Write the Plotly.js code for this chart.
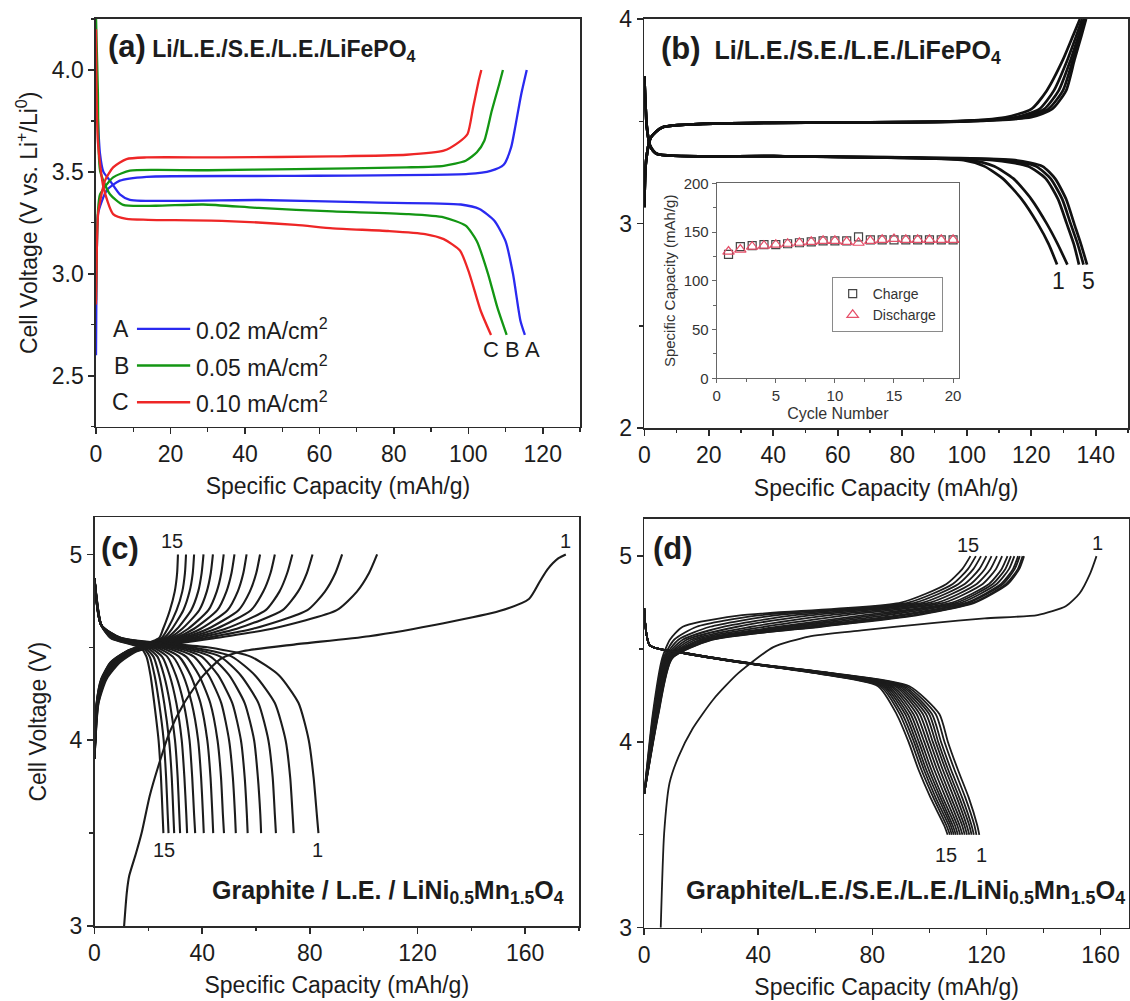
<!DOCTYPE html>
<html>
<head>
<meta charset="utf-8">
<script src="https://cdn.plot.ly/plotly-3.0.1.min.js"></script>
<style>
  html, body { margin: 0; padding: 0; background: #ffffff; }
  #chart { width: 1130px; height: 1001px; }
</style>
</head>
<body>
<div id="chart"></div>
<script>
// ---------- (a) Li/L.E./S.E./L.E./LiFePO4 at three current densities ----------
const rateLabels = ["A", "B", "C"];
const rateNames = ["0.02 mA/cm<sup>2</sup>", "0.05 mA/cm<sup>2</sup>", "0.10 mA/cm<sup>2</sup>"];
const rateColors = ["#2a2af0", "#139613", "#ee2626"];

const aChgX_A = [0, 0.1, 0.25, 0.6, 2.9, 6.4, 13.6, 50, 100, 106, 109.5, 111.5, 112.5, 114.2, 115.7];
const aChgY_A = [2.6, 2.9, 3.15, 3.30, 3.41, 3.457, 3.476, 3.48, 3.49, 3.505, 3.535, 3.62, 3.71, 3.88, 4.0];
const aDisX_A = [0, 0.3, 1.07, 2.0, 3.75, 6.4, 9.1, 44, 73.5, 98, 103, 107, 110, 112, 114, 115.2];
const aDisY_A = [4.05, 3.85, 3.59, 3.50, 3.457, 3.39, 3.363, 3.362, 3.35, 3.34, 3.318, 3.26, 3.16, 3.0, 2.77, 2.70];

const aChgX_B = [0, 0.2, 0.5, 1.1, 4.6, 9.1, 16, 30, 53.6, 83.4, 93.4, 99.3, 102.3, 104.3, 106.3, 108.3, 109.3];
const aChgY_B = [2.87, 3.1, 3.3, 3.39, 3.473, 3.506, 3.51, 3.508, 3.514, 3.522, 3.53, 3.555, 3.596, 3.653, 3.80, 3.93, 4.0];
const aDisX_B = [0, 0.5, 1.1, 3.75, 7.3, 16, 28.8, 43.7, 63.6, 83.4, 93.4, 99.3, 102.3, 105.3, 107.8, 110.3];
const aDisY_B = [4.26, 3.9, 3.506, 3.39, 3.338, 3.334, 3.34, 3.323, 3.306, 3.293, 3.277, 3.236, 3.16, 3.0, 2.835, 2.70];

const aChgX_C = [0, 0.2, 0.6, 2.4, 4.6, 8.2, 13.6, 33.8, 63.6, 83.4, 93.4, 97.4, 99.8, 101.3, 102.8, 103.5];
const aChgY_C = [2.85, 3.1, 3.3, 3.457, 3.522, 3.563, 3.571, 3.571, 3.576, 3.584, 3.604, 3.645, 3.686, 3.817, 3.948, 4.0];
const aDisX_C = [0, 0.5, 2.0, 4.6, 8.2, 14, 33.8, 53.6, 63.6, 78.5, 88.4, 93.4, 97.8, 100.3, 103.3, 106.1];
const aDisY_C = [4.2, 3.65, 3.424, 3.293, 3.269, 3.265, 3.26, 3.24, 3.223, 3.21, 3.195, 3.17, 3.113, 3.0, 2.82, 2.70];

// ---------- (b) first five cycles of the same cell ----------
const bChgV = [3.08, 3.30, 3.42, 3.47, 3.49, 3.50, 3.52, 3.56, 3.65, 3.80, 3.92, 4.00];
const bChgCap = [
  [0, 0.5, 2, 5.5, 25, 95, 112, 120, 124.8, 129.8, 133.0, 135.1],
  [0, 0.5, 2, 5.5, 25, 97, 115, 122.5, 127.0, 131.2, 134.0, 135.8],
  [0, 0.5, 2, 5.5, 25, 98, 117, 124.0, 128.5, 132.2, 134.7, 136.4],
  [0, 0.5, 2, 5.5, 25, 99, 118.5, 125.3, 129.8, 132.9, 135.2, 136.8],
  [0, 0.5, 2, 5.5, 25, 100, 120, 126.5, 130.8, 133.4, 135.6, 137.0]
];
const bDisV = [3.72, 3.47, 3.38, 3.34, 3.33, 3.31, 3.28, 3.22, 3.12, 3.00, 2.90, 2.80];
const bDisCap = [
  [0, 0.8, 1.8, 4, 40, 99, 105.5, 111.2, 117.0, 122.0, 125.4, 128.0],
  [0, 0.8, 1.8, 4, 40, 101, 108.5, 114.5, 120.0, 124.8, 128.2, 131.2],
  [0, 0.8, 1.8, 4, 40, 108, 119.0, 124.5, 128.3, 131.0, 133.2, 134.8],
  [0, 0.8, 1.8, 4, 40, 112, 121.5, 126.0, 129.6, 132.2, 134.4, 136.2],
  [0, 0.8, 1.8, 4, 40, 115, 123.5, 127.4, 130.8, 133.3, 135.4, 137.3]
];

// inset: capacity vs cycle number
const cycleNo = [1, 2, 3, 4, 5, 6, 7, 8, 9, 10, 11, 12, 13, 14, 15, 16, 17, 18, 19, 20];
const chargeCap = [127, 135, 136, 137, 137, 138, 139, 140, 141, 141, 141, 145, 142, 142, 142, 142, 142, 142, 142, 142];
const dischargeCap = [130, 132, 135, 136, 137, 138, 139, 140, 141, 141, 140, 139, 141, 142, 143, 142, 142, 142, 142, 142];

// ---------- (c) Graphite / L.E. / LiNi0.5Mn1.5O4, cycles 1-15 ----------
const cChg1X = [11, 12, 12.9, 15.4, 17.5, 20.5, 23.7, 27.8, 33.3, 40.2, 47.1, 55.4, 74.6, 102, 129.7, 150.4, 161.4, 165.5, 168.3, 172.4, 175.1];
const cChg1Y = [3.0, 3.18, 3.27, 3.39, 3.5, 3.7, 3.86, 4.04, 4.2, 4.345, 4.44, 4.48, 4.516, 4.56, 4.63, 4.695, 4.76, 4.856, 4.92, 4.98, 5.0];
const cChgV = [3.90, 4.20, 4.33, 4.42, 4.48, 4.55, 4.60, 4.70, 4.80, 4.90, 5.00];
const cChgCap = [ // cycles 2 .. 15
  [0, 1.5, 4.5, 9.5, 16.0, 45.0, 66.0, 90.0, 97.5, 102.0, 105.0],
  [0, 1.4, 4.1, 8.9, 15.3, 41.3, 58.9, 79.1, 85.6, 89.5, 92.0],
  [0, 1.3, 3.9, 8.4, 14.7, 38.2, 52.9, 69.9, 75.6, 78.9, 81.0],
  [0, 1.2, 3.7, 8.0, 14.3, 36.1, 48.7, 63.6, 68.7, 71.6, 73.5],
  [0, 1.1, 3.5, 7.7, 13.9, 34.2, 45.2, 58.1, 62.7, 65.4, 67.0],
  [0, 1.1, 3.3, 7.4, 13.6, 32.7, 42.2, 53.5, 57.7, 60.1, 61.5],
  [0, 1.0, 3.2, 7.2, 13.4, 31.2, 39.5, 49.4, 53.2, 55.3, 56.5],
  [0, 1.0, 3.1, 7.0, 13.1, 30.0, 37.0, 45.6, 49.0, 50.9, 52.0],
  [0, 1.0, 3.0, 6.8, 12.9, 28.8, 34.8, 42.3, 45.4, 47.1, 48.0],
  [0, 0.9, 2.9, 6.6, 12.7, 27.7, 32.6, 38.9, 41.7, 43.2, 44.0],
  [0, 0.9, 2.8, 6.5, 12.5, 26.7, 30.7, 35.9, 38.5, 39.8, 40.5],
  [0, 0.9, 2.7, 6.3, 12.3, 25.7, 28.8, 33.0, 35.3, 36.5, 37.0],
  [0, 0.8, 2.6, 6.1, 12.2, 24.9, 27.2, 30.5, 32.6, 33.6, 34.0],
  [0, 0.8, 2.5, 6.0, 12.0, 24.0, 25.5, 28.0, 29.8, 30.7, 31.0]
];
const cDisV = [4.87, 4.62, 4.55, 4.50, 4.45, 4.35, 4.20, 4.00, 3.80, 3.60, 3.50];
const cDisCap = [ // cycles 1 .. 15
  [0, 2.5, 10.0, 42.0, 58.0, 68.5, 75.8, 79.6, 81.4, 82.6, 83.2],
  [0, 2.5, 9.8, 36.3, 51.0, 59.6, 67.0, 71.0, 72.7, 73.6, 74.0],
  [0, 2.5, 9.5, 33.7, 46.7, 54.3, 60.9, 64.6, 66.2, 67.0, 67.4],
  [0, 2.5, 9.2, 31.5, 43.1, 50.0, 55.8, 59.3, 60.7, 61.6, 61.9],
  [0, 2.5, 9.0, 29.5, 39.8, 45.9, 51.2, 54.4, 55.8, 56.6, 56.9],
  [0, 2.5, 8.7, 27.7, 36.9, 42.4, 47.1, 50.0, 51.4, 52.2, 52.5],
  [0, 2.5, 8.4, 26.0, 34.0, 38.8, 43.0, 45.7, 47.0, 47.7, 48.1],
  [0, 2.5, 8.1, 24.4, 31.4, 35.7, 39.4, 41.9, 43.1, 43.8, 44.1],
  [0, 2.5, 7.8, 23.0, 29.1, 32.9, 36.1, 38.5, 39.6, 40.3, 40.6],
  [0, 2.5, 7.5, 21.7, 27.0, 30.2, 33.1, 35.3, 36.3, 37.0, 37.4],
  [0, 2.5, 7.2, 20.5, 25.1, 27.9, 30.4, 32.4, 33.4, 34.1, 34.4],
  [0, 2.5, 6.9, 19.5, 23.4, 25.8, 28.0, 29.9, 30.9, 31.5, 31.8],
  [0, 2.5, 6.6, 18.6, 21.9, 24.0, 25.9, 27.7, 28.7, 29.3, 29.6],
  [0, 2.5, 6.3, 17.8, 20.5, 22.3, 24.0, 25.7, 26.6, 27.2, 27.5],
  [0, 2.5, 6.0, 17.0, 19.3, 20.8, 22.2, 23.8, 24.7, 25.3, 25.6]
];

// ---------- (d) Graphite/L.E./S.E./L.E./LiNi0.5Mn1.5O4, cycles 1-15 ----------
const dChg1X = [5.8, 7, 8.9, 12, 16.9, 24.3, 33, 45.3, 57.7, 76.2, 100.9, 119.4, 137.9, 147.8, 152.7, 156.4, 158.6];
const dChg1Y = [3.0, 3.51, 3.78, 3.92, 4.07, 4.23, 4.37, 4.51, 4.567, 4.60, 4.64, 4.665, 4.683, 4.73, 4.80, 4.907, 5.0];
const dChgV = [3.72, 4.15, 4.45, 4.55, 4.62, 4.68, 4.75, 4.85, 4.93, 5.00];
const dChgCap = [ // cycles 2 .. 15
  [0, 5.0, 9.8, 24.0, 62.0, 95.0, 116.0, 127.5, 131.5, 133.2],
  [0, 4.9, 9.7, 23.6, 60.7, 93.3, 115.3, 126.9, 131.0, 132.7],
  [0, 4.8, 9.5, 22.8, 58.1, 90.0, 113.9, 125.8, 129.9, 131.7],
  [0, 4.7, 9.4, 22.3, 56.6, 88.1, 113.1, 125.1, 129.3, 131.1],
  [0, 4.6, 9.2, 21.3, 53.2, 83.8, 111.3, 123.6, 127.9, 129.8],
  [0, 4.5, 8.9, 20.3, 50.1, 79.8, 109.6, 122.2, 126.6, 128.6],
  [0, 4.4, 8.7, 19.4, 47.0, 75.8, 108.0, 120.9, 125.3, 127.4],
  [0, 4.2, 8.4, 17.9, 42.1, 69.6, 105.3, 118.7, 123.3, 125.5],
  [0, 4.0, 8.0, 16.4, 37.5, 63.7, 102.9, 116.6, 121.4, 123.7],
  [0, 3.8, 7.7, 14.9, 32.6, 57.4, 100.2, 114.5, 119.4, 121.8],
  [0, 3.6, 7.3, 13.5, 28.0, 51.5, 97.7, 112.4, 117.5, 120.0],
  [0, 3.4, 7.0, 12.0, 23.1, 45.2, 95.1, 110.2, 115.4, 118.1],
  [0, 3.2, 6.7, 10.5, 18.4, 39.3, 92.6, 108.2, 113.5, 116.3],
  [0, 3.0, 6.3, 9.0, 13.5, 33.0, 90.0, 106.0, 111.5, 114.4]
];
const dDisV = [4.72, 4.52, 4.48, 4.42, 4.37, 4.30, 4.15, 4.00, 3.85, 3.70, 3.55, 3.50];
const dDisCap = [ // cycles 1 .. 15
  [0, 2, 14.0, 39.0, 66.0, 93.0, 103.5, 106.5, 110.0, 113.8, 116.8, 117.5],
  [0, 2, 13.9, 38.8, 65.5, 92.0, 102.2, 105.3, 108.8, 112.6, 115.8, 116.5],
  [0, 2, 13.8, 38.7, 65.0, 91.1, 100.9, 104.1, 107.6, 111.5, 114.8, 115.6],
  [0, 2, 13.8, 38.5, 64.5, 90.3, 99.9, 103.1, 106.6, 110.5, 114.0, 114.8],
  [0, 2, 13.7, 38.4, 64.1, 89.5, 98.8, 102.2, 105.7, 109.6, 113.1, 114.0],
  [0, 2, 13.6, 38.2, 63.7, 88.7, 97.7, 101.2, 104.7, 108.6, 112.3, 113.2],
  [0, 2, 13.5, 38.1, 63.2, 88.0, 96.6, 100.2, 103.7, 107.6, 111.5, 112.4],
  [0, 2, 13.5, 37.9, 62.8, 87.1, 95.5, 99.2, 102.7, 106.7, 110.6, 111.6],
  [0, 2, 13.4, 37.8, 62.4, 86.4, 94.4, 98.2, 101.7, 105.7, 109.8, 110.8],
  [0, 2, 13.3, 37.6, 61.9, 85.6, 93.4, 97.2, 100.7, 104.7, 109.0, 110.0],
  [0, 2, 13.3, 37.5, 61.6, 84.9, 92.4, 96.3, 99.8, 103.9, 108.2, 109.3],
  [0, 2, 13.2, 37.4, 61.2, 84.2, 91.5, 95.4, 98.9, 103.1, 107.5, 108.6],
  [0, 2, 13.1, 37.3, 60.8, 83.5, 90.5, 94.6, 98.1, 102.2, 106.8, 107.9],
  [0, 2, 13.1, 37.1, 60.4, 82.8, 89.6, 93.7, 97.2, 101.4, 106.0, 107.2],
  [0, 2, 13.0, 37.0, 60.0, 82.0, 88.5, 92.7, 96.2, 100.4, 105.2, 106.4]
];

// ---------- trace builders ----------
const FONT = "Liberation Sans, Arial, Helvetica, sans-serif";
const INK = "#1c1c1c";
const traces = [];

function curve(xs, ys, xa, ya, color, width) {
  traces.push({
    type: "scatter", mode: "lines", x: xs, y: ys, xaxis: xa, yaxis: ya,
    line: { color: color, width: width, shape: "spline", smoothing: 0.6 },
    showlegend: false, hoverinfo: "skip"
  });
}

// (a)
const aSets = [
  [aChgX_A, aChgY_A, aDisX_A, aDisY_A],
  [aChgX_B, aChgY_B, aDisX_B, aDisY_B],
  [aChgX_C, aChgY_C, aDisX_C, aDisY_C]
];
aSets.forEach((s, i) => {
  curve(s[0], s[1], "x", "y", rateColors[i], 2.3);
  curve(s[2], s[3], "x", "y", rateColors[i], 2.3);
});

// (b)
bChgCap.forEach(row => curve(row, bChgV, "x2", "y2", "#111111", 2.7));
bDisCap.forEach(row => curve(row, bDisV, "x2", "y2", "#111111", 2.7));

// (c)
curve(cChg1X, cChg1Y, "x3", "y3", INK, 2.1);
cChgCap.forEach(row => curve(row, cChgV, "x3", "y3", INK, 2.1));
cDisCap.forEach(row => curve(row, cDisV, "x3", "y3", INK, 2.1));

// (d)
curve(dChg1X, dChg1Y, "x4", "y4", INK, 1.8);
dChgCap.forEach(row => curve(row, dChgV, "x4", "y4", INK, 1.8));
dDisCap.forEach(row => curve(row, dDisV, "x4", "y4", INK, 1.8));

// inset markers
traces.push({
  type: "scatter", mode: "markers", name: "Charge", x: cycleNo, y: chargeCap,
  xaxis: "x5", yaxis: "y5",
  marker: { symbol: "square-open", size: 8, color: "#444444", line: { width: 1.2 } },
  hoverinfo: "skip"
});
traces.push({
  type: "scatter", mode: "markers", name: "Discharge", x: cycleNo, y: dischargeCap,
  xaxis: "x5", yaxis: "y5",
  marker: { symbol: "triangle-up-open", size: 10, color: "#e6506a", line: { width: 1.2 } },
  hoverinfo: "skip"
});

// ---------- axes ----------
function axis(domain, anchor, range, dtick, minorDtick, extra) {
  return Object.assign({
    domain: domain, anchor: anchor, range: range, dtick: dtick, tick0: 0,
    showline: true, mirror: true, linecolor: "#2a2a2a", linewidth: 1.6,
    ticks: "outside", ticklen: 6, tickwidth: 1.6, tickcolor: "#2a2a2a",
    minor: { ticks: "outside", ticklen: 3.5, tickwidth: 1.3, tickcolor: "#2a2a2a", dtick: minorDtick, tick0: 0, showgrid: false },
    showgrid: false, zeroline: false,
    tickfont: { family: FONT, size: 23, color: INK }
  }, extra || {});
}

const capTitle = { text: "Specific Capacity (mAh/g)", font: { family: FONT, size: 23, color: INK }, standoff: 12 };

const layout = {
  width: 1130, height: 1001,
  margin: { l: 0, r: 0, t: 0, b: 0 },
  paper_bgcolor: "#ffffff", plot_bgcolor: "rgba(0,0,0,0)",
  font: { family: FONT, color: INK },
  showlegend: true,
  legend: {
    x: 0.736, y: 0.7233, xanchor: "left", yanchor: "top",
    bgcolor: "#ffffff", bordercolor: "#8a8a8a", borderwidth: 1,
    font: { family: FONT, size: 14, color: "#333333" },
    tracegroupgap: 0, itemwidth: 30
  },

  xaxis: axis([0.08496, 0.51327], "y", [0, 130], 20, 10, { title: capTitle }),
  yaxis: axis([0.57373, 0.98102], "x", [2.25, 4.25], 0.5, 0.25, {
    tickformat: ".1f", tick0: 2.5,
    title: { text: "Cell Voltage (V vs. Li<sup>+</sup>/Li<sup>0</sup>)", font: { family: FONT, size: 23, color: INK }, standoff: 8 }
  }),

  xaxis2: axis([0.57018, 0.99823], "y2", [0, 150], 20, 10, { title: capTitle }),
  yaxis2: axis([0.57213, 0.98102], "x2", [2, 4], 1, 0.5, {}),

  xaxis3: axis([0.08363, 0.51239], "y3", [0, 180], 40, 20, { title: capTitle }),
  yaxis3: axis([0.07493, 0.48322], "x3", [3, 5.2], 1, 0.5, {
    title: { text: "Cell Voltage (V)", font: { family: FONT, size: 23, color: INK }, standoff: 16 }
  }),

  xaxis4: axis([0.57009, 0.99912], "y4", [0, 170], 40, 20, { title: capTitle }),
  yaxis4: axis([0.07323, 0.48152], "x4", [3, 5.2], 1, 0.5, {}),

  xaxis5: axis([0.63425, 0.84867], "y5", [0, 20.5], 5, 2.5, {
    linecolor: "#666666", linewidth: 1, tickcolor: "#666666", tickwidth: 1, ticklen: 4,
    minor: { ticks: "outside", ticklen: 2.5, tickwidth: 1, tickcolor: "#666666", dtick: 2.5, tick0: 0 },
    tickfont: { family: FONT, size: 15, color: "#333333" },
    title: { text: "Cycle Number", font: { family: FONT, size: 16, color: "#333333" }, standoff: 4 }
  }),
  yaxis5: axis([0.62208, 0.81688], "x5", [0, 200], 50, 25, {
    linecolor: "#666666", linewidth: 1, tickcolor: "#666666", tickwidth: 1, ticklen: 4,
    minor: { ticks: "outside", ticklen: 2.5, tickwidth: 1, tickcolor: "#666666", dtick: 25, tick0: 0 },
    tickfont: { family: FONT, size: 15, color: "#333333" },
    title: { text: "Specific Capacity (mAh/g)", font: { family: FONT, size: 15, color: "#333333" }, standoff: 4 }
  }),

  shapes: [],
  annotations: []
};

// (a) inline key: letter, coloured stroke, current density
const keyV = [2.73, 2.55, 2.37];
rateLabels.forEach((lab, i) => {
  layout.shapes.push({
    type: "line", xref: "x", yref: "y", x0: 11, x1: 25.3, y0: keyV[i], y1: keyV[i],
    line: { color: rateColors[i], width: 2.4 }
  });
  layout.annotations.push({
    xref: "x", yref: "y", x: 9.5, y: keyV[i], text: lab, showarrow: false,
    xanchor: "right", yanchor: "middle", font: { family: FONT, size: 23, color: INK }
  });
  layout.annotations.push({
    xref: "x", yref: "y", x: 26.3, y: keyV[i], text: rateNames[i], showarrow: false,
    xanchor: "left", yanchor: "middle", font: { family: FONT, size: 23, color: INK }
  });
});

function note(xref, yref, x, y, text, size, xanchor) {
  layout.annotations.push({
    xref: xref, yref: yref, x: x, y: y, text: text, showarrow: false,
    xanchor: xanchor || "center", yanchor: "middle",
    font: { family: FONT, size: size, color: INK }
  });
}

// curve end labels
note("x", "y", 106, 2.63, "C", 22);
note("x", "y", 111.8, 2.63, "B", 22);
note("x", "y", 117.2, 2.63, "A", 22);

note("x2", "y2", 128.6, 2.72, "1", 23);
note("x2", "y2", 137.8, 2.72, "5", 23);

note("x3", "y3", 28.8, 5.07, "15", 20);
note("x3", "y3", 175, 5.07, "1", 20);
note("x3", "y3", 25.7, 3.41, "15", 20);
note("x3", "y3", 83, 3.41, "1", 20);

note("x4", "y4", 113.6, 5.06, "15", 20);
note("x4", "y4", 158.9, 5.07, "1", 20);
note("x4", "y4", 105.8, 3.39, "15", 20);
note("x4", "y4", 118.1, 3.39, "1", 20);

// panel headings
note("paper", "paper", 106 / 1130, 1 - 47 / 1001,
  "<b><span style='font-size:31px'>(a)</span> Li/L.E./S.E./L.E./LiFePO<sub>4</sub></b>", 23, "left");
note("paper", "paper", 659 / 1130, 1 - 50 / 1001,
  "<b><span style='font-size:31px'>(b)</span>  Li/L.E./S.E./L.E./LiFePO<sub>4</sub></b>", 25, "left");
note("paper", "paper", 99 / 1130, 1 - 548 / 1001, "<b>(c)</b>", 31, "left");
note("paper", "paper", 651 / 1130, 1 - 548 / 1001, "<b>(d)</b>", 31, "left");

// cell descriptions
note("paper", "paper", 566 / 1130, 1 - 892 / 1001,
  "<b>Graphite / L.E. / LiNi<sub>0.5</sub>Mn<sub>1.5</sub>O<sub>4</sub></b>", 25, "right");
note("paper", "paper", 1127 / 1130, 1 - 892 / 1001,
  "<b>Graphite/L.E./S.E./L.E./LiNi<sub>0.5</sub>Mn<sub>1.5</sub>O<sub>4</sub></b>", 25.5, "right");

Plotly.newPlot("chart", traces, layout, { staticPlot: true, displayModeBar: false });
</script>
</body>
</html>
